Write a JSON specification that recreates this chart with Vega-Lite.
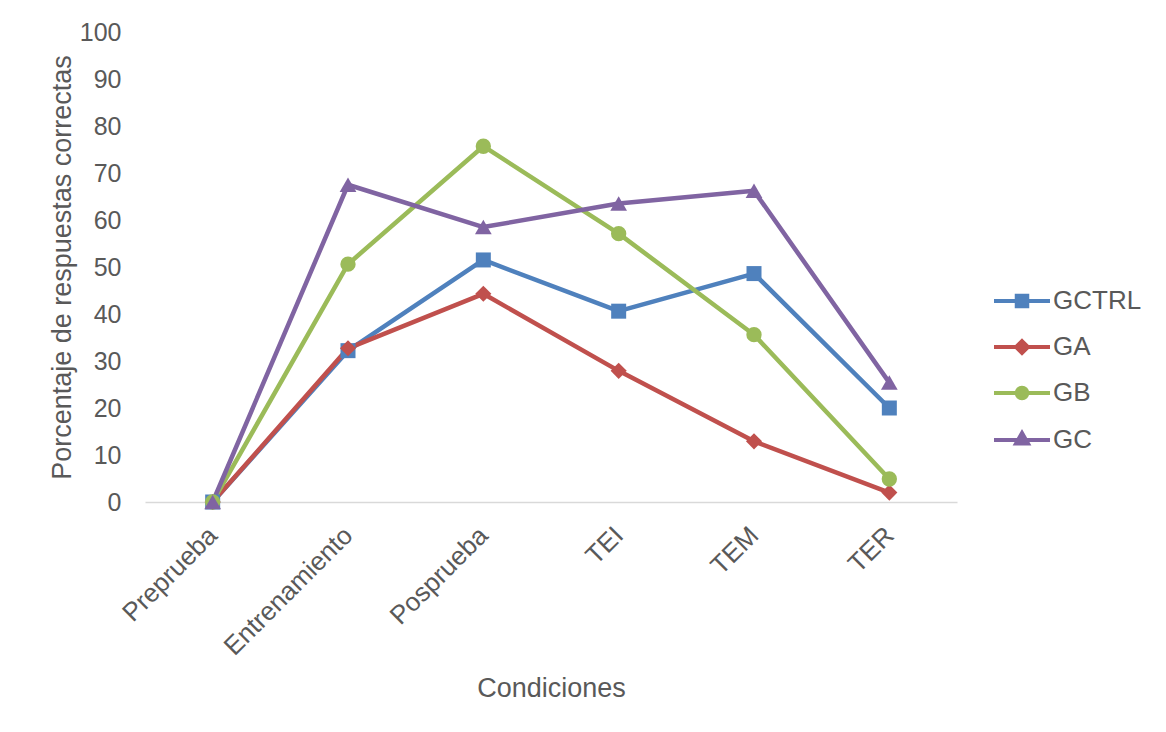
{
  "$schema": "https://vega.github.io/schema/vega-lite/v6.json",
  "autosize": {"type": "none"},
  "padding": {"left": 145, "top": 32, "right": 209, "bottom": 230},
  "width": 812,
  "height": 470,
  "background": "white",
  "config": {
    "view": {"stroke": null},
    "font": "Liberation Sans",
    "axis": {
      "labelFont": "Liberation Sans",
      "titleFont": "Liberation Sans",
      "labelColor": "#595959",
      "titleColor": "#595959",
      "labelFontSize": 25,
      "titleFontSize": 27,
      "titleFontWeight": "normal",
      "ticks": false,
      "grid": false
    },
    "legend": {
      "labelFont": "Liberation Sans",
      "labelColor": "#595959",
      "labelFontSize": 26
    }
  },
  "data": {
    "values": [
      {"condicion": "Preprueba", "grupo": "GCTRL", "porcentaje": 0},
      {"condicion": "Entrenamiento", "grupo": "GCTRL", "porcentaje": 32.2},
      {"condicion": "Posprueba", "grupo": "GCTRL", "porcentaje": 51.5},
      {"condicion": "TEI", "grupo": "GCTRL", "porcentaje": 40.6},
      {"condicion": "TEM", "grupo": "GCTRL", "porcentaje": 48.6},
      {"condicion": "TER", "grupo": "GCTRL", "porcentaje": 20.0},
      {"condicion": "Preprueba", "grupo": "GA", "porcentaje": 0},
      {"condicion": "Entrenamiento", "grupo": "GA", "porcentaje": 32.7},
      {"condicion": "Posprueba", "grupo": "GA", "porcentaje": 44.3},
      {"condicion": "TEI", "grupo": "GA", "porcentaje": 27.9},
      {"condicion": "TEM", "grupo": "GA", "porcentaje": 12.9},
      {"condicion": "TER", "grupo": "GA", "porcentaje": 2.0},
      {"condicion": "Preprueba", "grupo": "GB", "porcentaje": 0},
      {"condicion": "Entrenamiento", "grupo": "GB", "porcentaje": 50.6},
      {"condicion": "Posprueba", "grupo": "GB", "porcentaje": 75.7},
      {"condicion": "TEI", "grupo": "GB", "porcentaje": 57.1},
      {"condicion": "TEM", "grupo": "GB", "porcentaje": 35.6},
      {"condicion": "TER", "grupo": "GB", "porcentaje": 4.9},
      {"condicion": "Preprueba", "grupo": "GC", "porcentaje": 0},
      {"condicion": "Entrenamiento", "grupo": "GC", "porcentaje": 67.5},
      {"condicion": "Posprueba", "grupo": "GC", "porcentaje": 58.5},
      {"condicion": "TEI", "grupo": "GC", "porcentaje": 63.5},
      {"condicion": "TEM", "grupo": "GC", "porcentaje": 66.2},
      {"condicion": "TER", "grupo": "GC", "porcentaje": 25.4}
    ]
  },
  "encoding": {
    "x": {
      "field": "condicion",
      "type": "nominal",
      "sort": ["Preprueba", "Entrenamiento", "Posprueba", "TEI", "TEM", "TER"],
      "scale": {"type": "point", "padding": 0.5},
      "axis": {
        "title": "Condiciones",
        "labelAngle": -45,
        "labelAlign": "right",
        "labelBaseline": "middle",
        "labelFontSize": 26,
        "labelPadding": 29,
        "titlePadding": 16,
        "domainColor": "#d9d9d9",
        "domainWidth": 1.5
      }
    },
    "y": {
      "field": "porcentaje",
      "type": "quantitative",
      "scale": {"domain": [0, 100], "nice": false, "zero": true},
      "axis": {
        "title": "Porcentaje de respuestas correctas",
        "values": [0, 10, 20, 30, 40, 50, 60, 70, 80, 90, 100],
        "domain": false,
        "labelPadding": 24,
        "titlePadding": 3
      }
    },
    "color": {
      "field": "grupo",
      "type": "nominal",
      "sort": ["GCTRL", "GA", "GB", "GC"],
      "scale": {
        "domain": ["GCTRL", "GA", "GB", "GC"],
        "range": ["#4F81BD", "#C0504D", "#9BBB59", "#8064A2"]
      },
      "legend": {
        "title": null,
        "orient": "none",
        "legendX": 864,
        "legendY": 256,
        "symbolSize": 196,
        "symbolOpacity": 1,
        "symbolStrokeWidth": 4,
        "rowPadding": 18,
        "labelOffset": 18
      }
    }
  },
  "layer": [
    {
      "mark": {"type": "line", "strokeWidth": 4.5, "strokeJoin": "round", "strokeCap": "round"}
    },
    {
      "transform": [{"filter": "datum.grupo === 'GCTRL'"}],
      "mark": {"type": "point", "filled": true, "opacity": 1, "size": 225, "shape": "square"}
    },
    {
      "transform": [{"filter": "datum.grupo === 'GA'"}],
      "mark": {"type": "point", "filled": true, "opacity": 1, "size": 260, "shape": "diamond"}
    },
    {
      "transform": [{"filter": "datum.grupo === 'GB'"}],
      "mark": {"type": "point", "filled": true, "opacity": 1, "size": 235, "shape": "circle"}
    },
    {
      "transform": [{"filter": "datum.grupo === 'GC'"}],
      "mark": {"type": "point", "filled": true, "opacity": 1, "size": 280, "shape": "triangle-up"}
    },
    {
      "mark": {"type": "point", "filled": true, "opacity": 0, "size": 196},
      "encoding": {
        "shape": {
          "field": "grupo",
          "type": "nominal",
          "scale": {
            "domain": ["GCTRL", "GA", "GB", "GC"],
            "range": [
              "M-4,0L4,0M-0.75,-0.75L0.75,-0.75L0.75,0.75L-0.75,0.75Z",
              "M-4,0L4,0M0,-0.85L0.85,0L0,0.85L-0.85,0Z",
              "M-4,0L4,0M0.75,0A0.75,0.75,0,1,1,-0.75,0A0.75,0.75,0,1,1,0.75,0Z",
              "M-4,0L4,0M0,-1L0.85,0.5L-0.85,0.5Z"
            ]
          },
          "legend": {
            "title": null,
            "orient": "none",
            "legendX": 864,
            "legendY": 256,
            "symbolSize": 196,
            "symbolOpacity": 1,
            "symbolStrokeWidth": 4,
            "rowPadding": 18,
            "labelOffset": 18
          }
        }
      }
    }
  ]
}
